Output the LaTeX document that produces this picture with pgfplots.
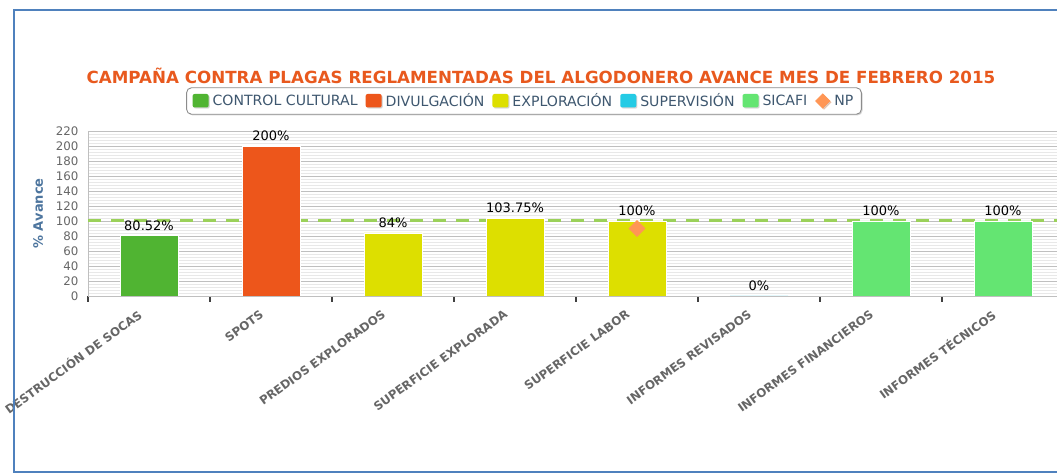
\documentclass[border=0pt]{standalone}
\usepackage{fontspec}
\setmainfont{DejaVu Sans}
\usepackage{pgfplots}
\pgfplotsset{compat=1.18}
\usetikzlibrary{shadows}

\definecolor{ccgreen}{HTML}{50B432}
\definecolor{divorange}{HTML}{ED561B}
\definecolor{expyellow}{HTML}{DDDF00}
\definecolor{supcyan}{HTML}{24CBE5}
\definecolor{sicgreen}{HTML}{64E572}
\definecolor{nporange}{HTML}{FF9655}
\definecolor{titlec}{HTML}{E8591E}
\definecolor{legtext}{HTML}{3E576F}
\definecolor{ylabc}{HTML}{4D759E}
\definecolor{tickgray}{HTML}{666666}
\definecolor{dashgreen}{HTML}{9BD15A}
\definecolor{framec}{HTML}{4F81BD}

\pgfplotsset{
  barleg/.style={legend image code/.code={\fill[##1,draw=none,rounded corners=2pt] (0pt,-6.5pt) rectangle (16pt,7pt);}},
  npleg/.style={legend image code/.code={\fill[nporange,sharp corners] (0pt,0pt) -- (7pt,7pt) -- (14pt,0pt) -- (7pt,-7pt) -- cycle;}},
  onebar/.style={ybar, bar width=58pt, bar shift=0pt, draw=white, line width=0.8pt, barleg,
    nodes near coords={\pgfmathprintnumber[fixed,precision=2]{\pgfplotspointmeta}\%},
    every node near coord/.append style={font=\fontsize{13}{15}\selectfont, text=black, yshift=1.5pt}},
}

\begin{document}
\begin{tikzpicture}
\path[use as bounding box] (0pt,0pt) rectangle (1057pt,476pt);

\node[font=\bfseries\fontsize{16.7}{19}\selectfont, text=titlec] at (541pt,400pt)
  {CAMPAÑA CONTRA PLAGAS REGLAMENTADAS DEL ALGODONERO AVANCE MES DE FEBRERO 2015};

\begin{axis}[
  at={(88pt,180pt)}, anchor=south west,
  scale only axis, width=976pt, height=165pt,
  xmin=-0.5, xmax=7.5, ymin=0, ymax=220,
  /pgf/number format/assume math mode=true,
  ytick={0,20,...,220},
  minor y tick num=4,
  ymajorgrids, yminorgrids,
  major grid style={draw=black!25, line width=0.7pt},
  minor grid style={draw=black!9, line width=0.6pt},
  xtick={0,...,7},
  xticklabels={DESTRUCCIÓN DE SOCAS, SPOTS, PREDIOS EXPLORADOS, SUPERFICIE EXPLORADA, SUPERFICIE LABOR, INFORMES REVISADOS, INFORMES FINANCIEROS, INFORMES TÉCNICOS},
  minor xtick={-0.5,0.5,...,7.5},
  tick align=outside,
  major tick length=0pt,
  minor tick length=6pt,
  xtick pos=bottom, ytick pos=left,
  y tick style={draw=none},
  minor y tick style={draw=none},
  major x tick style={draw=none},
  minor x tick style={draw=black!75, line width=2.5pt},
  axis line style={draw=black!25, line width=0.8pt},
  yticklabel style={font=\fontsize{11.8}{13}\selectfont, text=tickgray, anchor=east, xshift=-6pt},
  xticklabel style={font=\bfseries\fontsize{11.8}{13}\selectfont, text=tickgray, inner sep=0pt,
    anchor=east, xshift=-9pt, yshift=-17pt, rotate=36},
  ylabel={\% Avance},
  ylabel style={at={(axis description cs:-0.0512,0.5)}, anchor=center,
    font=\bfseries\fontsize{13}{15}\selectfont, text=ylabc},
  legend columns=-1,
  legend style={at={(axis description cs:0.4467,1.1818)}, anchor=center,
    draw=black!45, line width=0.9pt, rounded corners=5pt, fill=white,
    drop shadow={shadow xshift=1.2pt, shadow yshift=-1.2pt, opacity=0.35},
    font=\fontsize{14.1}{16}\selectfont, text=legtext,
    inner xsep=6pt, inner ysep=4pt,
    /tikz/every odd column/.append style={column sep=2pt},
    /tikz/every even column/.append style={column sep=6pt}},
]
\addplot[forget plot, sharp plot, dashgreen, line width=3pt, dash pattern=on 13pt off 10pt]
  coordinates {(-0.5,100) (7.5,100)};

\addplot[onebar, fill=ccgreen] coordinates {(0,80.52)};
\addlegendentry{CONTROL CULTURAL}
\addplot[onebar, fill=divorange] coordinates {(1,200)};
\addlegendentry{DIVULGACIÓN}
\addplot[onebar, fill=expyellow] coordinates {(2,84) (3,103.75) (4,100)};
\addlegendentry{EXPLORACIÓN}
\addplot[onebar, fill=supcyan] coordinates {(5,0)};
\addlegendentry{SUPERVISIÓN}
\addplot[onebar, fill=sicgreen] coordinates {(6,100) (7,100)};
\addlegendentry{SICAFI}
\addplot[only marks, npleg, mark=square*, mark size=5.7pt, color=nporange,
  mark options={rotate=45, fill=nporange, draw=nporange}] coordinates {(4,90)};
\addlegendentry{NP}
\end{axis}

\draw[framec, line width=1.5pt] (14pt,4pt) rectangle (1080pt,466pt);
\end{tikzpicture}
\end{document}
